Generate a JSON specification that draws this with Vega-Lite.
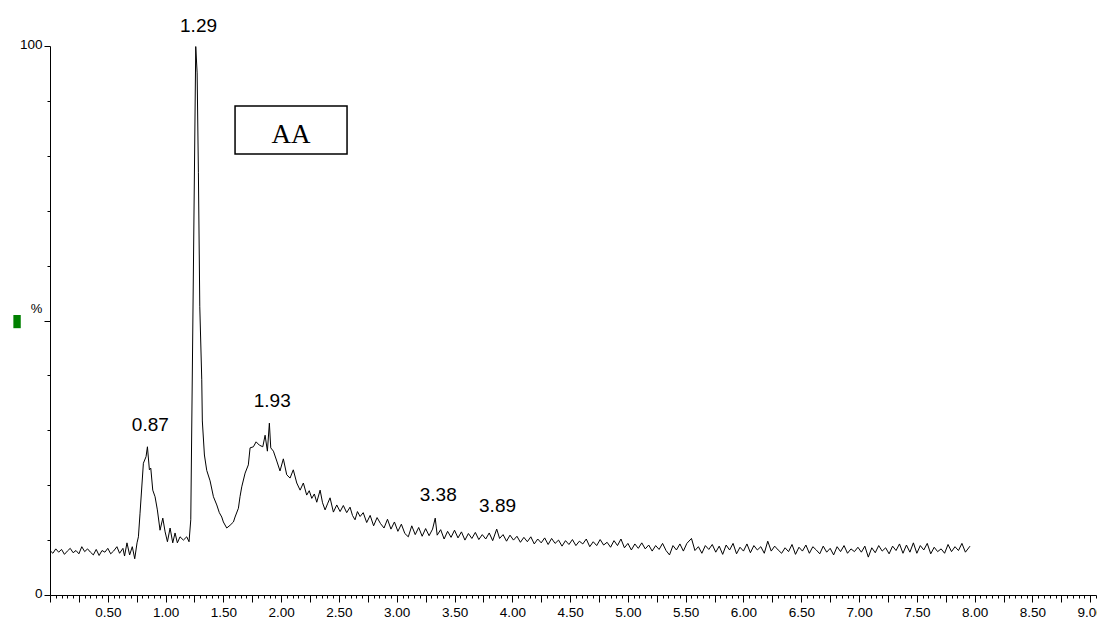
{
  "$schema": "https://vega.github.io/schema/vega-lite/v6.json",
  "width": 1046,
  "height": 549,
  "autosize": "none",
  "padding": {"left": 50, "top": 46, "right": 1, "bottom": 28},
  "background": "white",
  "config": {"view": {"stroke": null}},
  "layer": [
    {
      "data": {"values": [
        {"t":0.00,"v":8.1},{"t":0.025,"v":7.6},{"t":0.05,"v":8.4},{"t":0.075,"v":7.8},{"t":0.10,"v":8.3},{"t":0.125,"v":7.4},{"t":0.15,"v":8.0},{"t":0.175,"v":8.5},{"t":0.20,"v":7.7},{"t":0.225,"v":8.1},{"t":0.25,"v":7.5},{"t":0.275,"v":8.8},{"t":0.30,"v":7.9},{"t":0.325,"v":8.4},{"t":0.35,"v":7.8},{"t":0.375,"v":7.3},{"t":0.40,"v":8.3},{"t":0.425,"v":7.2},{"t":0.45,"v":8.1},{"t":0.475,"v":7.8},{"t":0.50,"v":8.5},{"t":0.525,"v":7.5},{"t":0.55,"v":8.0},{"t":0.579,"v":8.8},{"t":0.602,"v":7.6},{"t":0.631,"v":8.5},{"t":0.645,"v":7.1},{"t":0.666,"v":9.5},{"t":0.689,"v":7.3},{"t":0.712,"v":8.8},{"t":0.733,"v":6.6},{"t":0.753,"v":9.5},
        {"t":0.765,"v":10.6},{"t":0.779,"v":14.9},{"t":0.808,"v":24.0},{"t":0.831,"v":25.2},{"t":0.843,"v":27.0},{"t":0.860,"v":22.8},{"t":0.872,"v":23.1},{"t":0.889,"v":19.1},{"t":0.909,"v":17.9},{"t":0.929,"v":15.5},{"t":0.952,"v":11.8},{"t":0.976,"v":14.0},{"t":0.996,"v":11.5},{"t":1.016,"v":9.7},{"t":1.039,"v":12.2},{"t":1.062,"v":9.5},{"t":1.082,"v":11.3},{"t":1.102,"v":9.5},{"t":1.125,"v":10.6},{"t":1.154,"v":10.0},{"t":1.183,"v":10.6},{"t":1.203,"v":9.7},{"t":1.218,"v":13.7},{"t":1.261,"v":99.9},{"t":1.273,"v":95.1},{"t":1.284,"v":76.9},{"t":1.296,"v":52.5},{"t":1.313,"v":39.2},{"t":1.318,"v":31.7},{"t":1.336,"v":25.5},{"t":1.356,"v":22.7},{"t":1.385,"v":20.8},{"t":1.414,"v":17.9},{"t":1.443,"v":16.4},{"t":1.465,"v":15.0},{"t":1.486,"v":14.2},{"t":1.500,"v":13.3},{"t":1.529,"v":12.2},{"t":1.558,"v":12.7},{"t":1.587,"v":13.3},{"t":1.601,"v":14.2},{"t":1.630,"v":15.8},{"t":1.644,"v":17.9},{"t":1.659,"v":19.7},{"t":1.688,"v":22.2},{"t":1.716,"v":23.7},{"t":1.731,"v":26.8},{"t":1.760,"v":27.0},{"t":1.783,"v":27.9},{"t":1.811,"v":27.3},{"t":1.841,"v":27.0},{"t":1.861,"v":29.1},{"t":1.881,"v":26.2},{"t":1.898,"v":31.3},{"t":1.910,"v":26.8},{"t":1.933,"v":26.2},{"t":1.962,"v":24.4},{"t":1.990,"v":22.6},{"t":2.019,"v":24.8},{"t":2.048,"v":21.9},{"t":2.077,"v":21.3},{"t":2.105,"v":22.8},{"t":2.135,"v":20.4},{"t":2.164,"v":19.1},{"t":2.192,"v":20.4},{"t":2.221,"v":18.2},{"t":2.243,"v":19.0},{"t":2.265,"v":17.6},{"t":2.287,"v":18.4},{"t":2.308,"v":16.9},{"t":2.337,"v":19.1},{"t":2.358,"v":16.8},{"t":2.380,"v":15.5},{"t":2.401,"v":16.6},{"t":2.423,"v":17.7},{"t":2.452,"v":15.1},{"t":2.481,"v":16.4},{"t":2.510,"v":15.2},{"t":2.538,"v":16.3},{"t":2.567,"v":15.0},{"t":2.596,"v":16.0},{"t":2.617,"v":14.5},{"t":2.639,"v":13.7},{"t":2.660,"v":15.2},{"t":2.683,"v":14.3},
        {"t":2.71,"v":15.0},{"t":2.74,"v":13.2},{"t":2.77,"v":14.5},{"t":2.80,"v":12.6},{"t":2.83,"v":14.1},{"t":2.86,"v":13.0},{"t":2.89,"v":12.2},{"t":2.92,"v":13.8},{"t":2.95,"v":12.0},{"t":2.98,"v":13.3},{"t":3.01,"v":11.6},{"t":3.04,"v":12.9},{"t":3.07,"v":11.2},{"t":3.10,"v":10.6},{"t":3.13,"v":12.6},{"t":3.16,"v":11.0},{"t":3.19,"v":12.3},{"t":3.22,"v":10.7},{"t":3.25,"v":12.1},{"t":3.28,"v":10.8},{"t":3.31,"v":12.0},{"t":3.333,"v":14.0},{"t":3.35,"v":10.9},{"t":3.38,"v":11.9},{"t":3.41,"v":10.2},{"t":3.44,"v":11.6},{"t":3.47,"v":10.5},{"t":3.50,"v":11.8},{"t":3.53,"v":10.4},{"t":3.56,"v":11.5},{"t":3.59,"v":10.0},{"t":3.62,"v":11.2},{"t":3.65,"v":10.3},{"t":3.68,"v":11.4},{"t":3.71,"v":10.1},{"t":3.74,"v":11.0},{"t":3.77,"v":10.2},{"t":3.80,"v":11.3},{"t":3.83,"v":9.9},{"t":3.865,"v":12.0},{"t":3.89,"v":10.3},{"t":3.92,"v":11.0},{"t":3.95,"v":9.8},{"t":3.98,"v":10.9},
        {"t":4.01,"v":10.0},{"t":4.04,"v":10.7},{"t":4.07,"v":9.6},{"t":4.10,"v":10.5},{"t":4.13,"v":9.7},{"t":4.16,"v":10.6},{"t":4.19,"v":9.3},{"t":4.22,"v":10.2},{"t":4.25,"v":9.5},{"t":4.28,"v":10.4},{"t":4.31,"v":9.2},{"t":4.34,"v":10.3},{"t":4.37,"v":9.4},{"t":4.40,"v":10.0},{"t":4.43,"v":8.9},{"t":4.46,"v":9.9},{"t":4.49,"v":9.2},{"t":4.52,"v":10.1},{"t":4.55,"v":9.0},{"t":4.58,"v":9.8},{"t":4.61,"v":9.3},{"t":4.64,"v":10.2},{"t":4.67,"v":8.8},{"t":4.70,"v":9.7},{"t":4.73,"v":9.0},{"t":4.76,"v":10.1},{"t":4.79,"v":9.1},{"t":4.82,"v":9.6},{"t":4.85,"v":8.7},{"t":4.88,"v":9.9},{"t":4.91,"v":9.0},{"t":4.94,"v":10.2},{"t":4.97,"v":8.6},
        {"t":5.00,"v":9.4},{"t":5.03,"v":8.2},{"t":5.06,"v":9.3},{"t":5.09,"v":8.5},{"t":5.12,"v":9.5},{"t":5.15,"v":8.4},{"t":5.18,"v":9.1},{"t":5.21,"v":8.0},{"t":5.24,"v":9.0},{"t":5.27,"v":8.3},{"t":5.30,"v":9.4},{"t":5.33,"v":8.1},{"t":5.36,"v":7.3},{"t":5.39,"v":9.0},{"t":5.42,"v":8.2},{"t":5.45,"v":9.3},{"t":5.48,"v":8.0},{"t":5.51,"v":9.4},{"t":5.55,"v":10.3},{"t":5.58,"v":8.1},{"t":5.61,"v":8.8},{"t":5.64,"v":7.6},{"t":5.67,"v":9.0},{"t":5.70,"v":8.3},{"t":5.73,"v":9.2},{"t":5.76,"v":7.8},{"t":5.79,"v":8.9},{"t":5.82,"v":7.4},{"t":5.85,"v":9.1},{"t":5.88,"v":8.2},{"t":5.91,"v":9.4},{"t":5.94,"v":7.5},{"t":5.97,"v":8.7},
        {"t":6.00,"v":8.0},{"t":6.03,"v":9.3},{"t":6.06,"v":7.7},{"t":6.09,"v":9.0},{"t":6.12,"v":8.2},{"t":6.15,"v":8.8},{"t":6.18,"v":7.6},{"t":6.21,"v":9.8},{"t":6.24,"v":8.0},{"t":6.27,"v":8.9},{"t":6.30,"v":8.2},{"t":6.33,"v":7.6},{"t":6.36,"v":8.6},{"t":6.39,"v":7.9},{"t":6.42,"v":9.2},{"t":6.45,"v":7.4},{"t":6.48,"v":8.7},{"t":6.51,"v":8.0},{"t":6.54,"v":9.1},{"t":6.57,"v":7.6},{"t":6.60,"v":8.8},{"t":6.63,"v":8.2},{"t":6.66,"v":7.5},{"t":6.69,"v":8.9},{"t":6.72,"v":7.8},{"t":6.75,"v":8.5},{"t":6.78,"v":7.3},{"t":6.81,"v":8.8},{"t":6.84,"v":7.9},{"t":6.87,"v":9.0},{"t":6.90,"v":7.6},{"t":6.93,"v":8.4},{"t":6.96,"v":7.9},{"t":6.99,"v":8.7},
        {"t":7.02,"v":7.8},{"t":7.05,"v":8.9},{"t":7.08,"v":6.9},{"t":7.11,"v":8.6},{"t":7.14,"v":7.7},{"t":7.17,"v":9.0},{"t":7.20,"v":8.0},{"t":7.23,"v":8.6},{"t":7.26,"v":7.5},{"t":7.29,"v":8.9},{"t":7.32,"v":8.1},{"t":7.35,"v":9.3},{"t":7.38,"v":7.6},{"t":7.41,"v":9.1},{"t":7.44,"v":7.8},{"t":7.47,"v":9.5},{"t":7.50,"v":7.6},{"t":7.53,"v":9.0},{"t":7.56,"v":8.2},{"t":7.59,"v":9.4},{"t":7.62,"v":7.5},{"t":7.65,"v":8.7},{"t":7.68,"v":7.9},{"t":7.71,"v":8.4},{"t":7.74,"v":7.6},{"t":7.77,"v":9.2},{"t":7.80,"v":7.9},{"t":7.83,"v":8.8},{"t":7.86,"v":8.1},{"t":7.89,"v":9.4},{"t":7.92,"v":7.8},{"t":7.96,"v":8.9}
      ]},
      "mark": {"type": "line", "color": "black", "strokeWidth": 1},
      "encoding": {
        "x": {"field": "t", "type": "quantitative",
          "scale": {"domain": [0, 9.05], "nice": false, "zero": false},
          "axis": {"title": null, "tickCount": 180, "grid": false,
            "domainColor": "black", "domainWidth": 1, "tickColor": "black", "tickWidth": 1,
            "tickSize": {"condition": {"test": "round(datum.value*100) % 25 == 0", "value": 7}, "value": 3},
            "labelExpr": "(round(datum.value*100) % 50 == 0 && datum.value > 0) ? format(datum.value, '.2f') : ''",
            "labelOverlap": false, "labelFlush": false, "labelPadding": 3,
            "labelFont": "Liberation Sans", "labelFontSize": 13.5, "labelColor": "black"}},
        "y": {"field": "v", "type": "quantitative",
          "scale": {"domain": [0, 100], "nice": false, "zero": true},
          "axis": {"title": "%", "titleAngle": 0, "titleX": -14, "titleY": 262, "titleAlign": "center", "titleBaseline": "middle",
            "titleFont": "Liberation Sans", "titleFontSize": 13, "titleFontWeight": "normal", "titleColor": "black",
            "values": [0,10,20,30,40,50,60,70,80,90,100], "grid": false,
            "domainColor": "black", "domainWidth": 1, "tickColor": "black", "tickWidth": 1,
            "tickSize": {"condition": {"test": "datum.value % 50 == 0", "value": 6}, "value": 3},
            "labelExpr": "(datum.value == 0 || datum.value == 100) ? datum.label : ''",
            "labelBaseline": "alphabetic", "labelOffset": 2, "labelPadding": 2, "labelFlush": false, "labelOverlap": false,
            "labelFont": "Liberation Sans", "labelFontSize": 13.5, "labelColor": "black"}}
      }
    },
    {
      "data": {"values": [{"t": 1.601, "t2": 2.570, "v": 80.33, "v2": 89.07}]},
      "mark": {"type": "rect", "fill": "white", "stroke": "black", "strokeWidth": 1.5},
      "encoding": {
        "x": {"field": "t", "type": "quantitative"},
        "x2": {"field": "t2"},
        "y": {"field": "v", "type": "quantitative"},
        "y2": {"field": "v2"}
      }
    },
    {
      "data": {"values": [{"t": 2.086, "v": 83.8, "label": "AA"}]},
      "mark": {"type": "text", "font": "Liberation Serif", "fontSize": 27, "align": "center", "baseline": "middle", "color": "black"},
      "encoding": {
        "x": {"field": "t", "type": "quantitative"},
        "y": {"field": "v", "type": "quantitative"},
        "text": {"field": "label"}
      }
    },
    {
      "data": {"values": [{"t": -0.317, "t2": -0.253, "v": 48.6, "v2": 51.0}]},
      "mark": {"type": "rect", "fill": "#008000", "clip": false},
      "encoding": {
        "x": {"field": "t", "type": "quantitative"},
        "x2": {"field": "t2"},
        "y": {"field": "v", "type": "quantitative"},
        "y2": {"field": "v2"}
      }
    },
    {
      "data": {"values": [
        {"t": 1.285, "v": 102.55, "label": "1.29"},
        {"t": 0.868, "v": 29.9, "label": "0.87"},
        {"t": 1.923, "v": 34.2, "label": "1.93"},
        {"t": 3.359, "v": 17.1, "label": "3.38"},
        {"t": 3.872, "v": 15.1, "label": "3.89"}
      ]},
      "mark": {"type": "text", "font": "Liberation Sans", "fontSize": 19, "align": "center", "baseline": "alphabetic", "color": "black"},
      "encoding": {
        "x": {"field": "t", "type": "quantitative"},
        "y": {"field": "v", "type": "quantitative"},
        "text": {"field": "label"}
      }
    }
  ]
}
